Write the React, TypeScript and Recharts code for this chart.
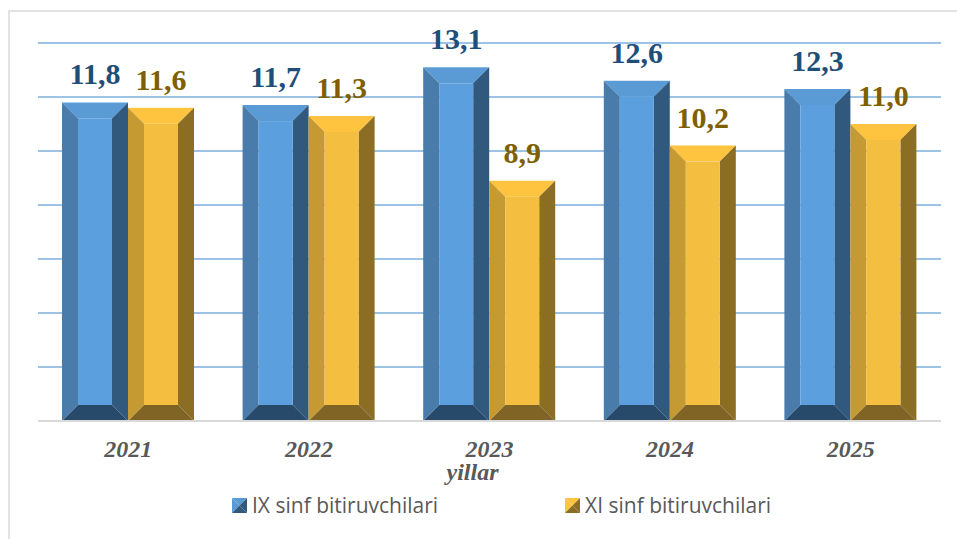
import { Bar, BarChart, CartesianGrid, LabelList, Legend, XAxis, YAxis } from "recharts";

const years = ["2021", "2022", "2023", "2024", "2025"];
const ixValues = [11.8, 11.7, 13.1, 12.6, 12.3];
const xiValues = [11.6, 11.3, 8.9, 10.2, 11.0];
const yTicks = [0, 2, 4, 6, 8, 10, 12, 14];

const data = years.map((year, i) => ({ year, ix: ixValues[i], xi: xiValues[i] }));

const BLUE = { top: "#5b9bd5", left: "#4a7cab", right: "#31587d", bottom: "#27496a", face: "#5b9fdf" };
const GOLD = { top: "#ffc43f", left: "#c69a33", right: "#8b6d24", bottom: "#7f6425", face: "#f4bf41" };
type Palette = typeof BLUE;

const BEVEL = 16;

// bar with the bevelled look of the original
function BevelBar(props: any, colors: Palette) {
  const { x, y, width: w, height: h } = props;
  const b = BEVEL;
  const r = x + w;
  const e = y + h;
  return (
    <g>
      <polygon points={`${x},${y} ${r},${y} ${r - b},${y + b} ${x + b},${y + b}`} fill={colors.top} />
      <polygon points={`${x},${y} ${x + b},${y + b} ${x + b},${e - b} ${x},${e}`} fill={colors.left} />
      <polygon points={`${r},${y} ${r},${e} ${r - b},${e - b} ${r - b},${y + b}`} fill={colors.right} />
      <polygon points={`${x},${e} ${x + b},${e - b} ${r - b},${e - b} ${r},${e}`} fill={colors.bottom} />
      <rect x={x + b} y={y + b} width={w - 2 * b} height={h - 2 * b} fill={colors.face} />
    </g>
  );
}

function LegendSwatch({ colors }: { colors: Palette }) {
  return (
    <svg width={15} height={15} style={{ marginRight: 5, flex: "none" }}>
      <polygon points="0,0 15,0 7.5,7.5" fill={colors.top} />
      <polygon points="15,0 15,15 7.5,7.5" fill={colors.right} />
      <polygon points="0,0 0,15 7.5,7.5" fill={colors.top} />
      <polygon points="0,15 15,15 7.5,7.5" fill={colors.right} />
    </svg>
  );
}

function ChartLegend() {
  const items: [string, Palette][] = [
    ["IX sinf bitiruvchilari", BLUE],
    ["XI sinf bitiruvchilari", GOLD],
  ];
  return (
    <div style={{ display: "flex", marginLeft: 232, height: 28 }}>
      {items.map(([name, colors]) => (
        <div key={name} style={{ display: "flex", alignItems: "center", width: 333, color: "#595959", fontFamily: "'Open Sans'", fontSize: 21 }}>
          <LegendSwatch colors={colors} />
          <span>{name}</span>
        </div>
      ))}
    </div>
  );
}

const formatValue = (v: any) => Number(v).toFixed(1).replace(".", ",");

const labelStyle = { fontFamily: "'Liberation Serif'", fontWeight: 700, fontSize: 30 };
const axisText = { fill: "#595959", fontFamily: "'Liberation Serif'", fontWeight: 700, fontStyle: "italic", fontSize: 24 };

export default function App() {
  return (
    <div style={{ position: "absolute", left: 0, top: 0, width: 957, height: 539, background: "#fff", overflow: "hidden" }}>
      <div style={{ position: "absolute", left: 8, top: 10, width: 960, height: 540, border: "2px solid #e3e3e3", boxSizing: "border-box" }} />
      <BarChart
        width={957}
        height={539}
        data={data}
        barCategoryGap={24}
        barGap={0}
        margin={{ top: 43, right: 16, left: 38, bottom: 30 }}
        style={{ position: "absolute", left: 0, top: 0 }}
      >
        <CartesianGrid vertical={false} stroke="#9dc3e6" strokeWidth={2} />
        <XAxis
          dataKey="year"
          height={60}
          axisLine={{ stroke: "#d9d9d9", strokeWidth: 2 }}
          tickLine={false}
          tick={axisText}
          tickMargin={13}
          label={{ value: "yillar", position: "insideBottom", dx: -17, dy: 4, ...axisText }}
        />
        <YAxis hide width={0} domain={[0, 14]} ticks={yTicks} />
        <Legend content={<ChartLegend />} verticalAlign="bottom" wrapperStyle={{ left: 0, bottom: 20, width: 957 }} />
        <Bar dataKey="ix" name="IX sinf bitiruvchilari" isAnimationActive={false} shape={(p: any) => BevelBar(p, BLUE)}>
          <LabelList dataKey="ix" position="top" offset={18} formatter={formatValue} fill="#1f4e79" style={labelStyle} />
        </Bar>
        <Bar dataKey="xi" name="XI sinf bitiruvchilari" isAnimationActive={false} shape={(p: any) => BevelBar(p, GOLD)}>
          <LabelList dataKey="xi" position="top" offset={18} formatter={formatValue} fill="#7f6000" style={labelStyle} />
        </Bar>
      </BarChart>
    </div>
  );
}
